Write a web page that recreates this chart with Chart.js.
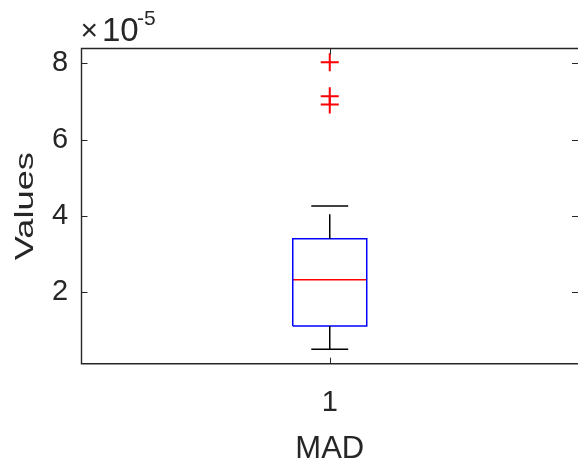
<!DOCTYPE html>
<html>
<head>
<meta charset="utf-8">
<script src="https://cdn.jsdelivr.net/npm/chart.js@4.4.1/dist/chart.umd.min.js"></script>
<style>
  html, body { margin: 0; padding: 0; background: #ffffff; }
  #wrap { width: 578px; height: 472px; }
</style>
</head>
<body>
<div id="wrap"><canvas id="c" width="578" height="472"></canvas></div>
<script>
// Box plot of the MAD values (one group), summary statistics in data units
const groupLabels   = ['1'];
const lowerWhisker  = [0.50e-5];
const firstQuartile = [1.11e-5];
const medianValue   = [2.32e-5];
const thirdQuartile = [3.40e-5];
const upperWhisker  = [4.26e-5];
const outlierValues = [[8.03e-5, 7.14e-5, 6.92e-5]];

// axis ticks, range and labels
const yTickValues = [2e-5, 4e-5, 6e-5, 8e-5];
const yRange = [0.12e-5, 8.39e-5];
const yExponent = -5;
const xAxisTitle = 'MAD';
const yAxisTitle = 'Values';

const INK = '#262626';
const FONT = "'Liberation Sans', Arial, Helvetica, sans-serif";
const BOX_HALF = 0.0745;   // half box width, x units
const CAP_HALF = 0.0372;   // half whisker-cap width, x units
const WHISKER_DASH = [24.5, 9];

const datasets = [];
groupLabels.forEach((g, i) => {
  const x = i + 1;
  const seg = (x0, x1, y0, y1) => [{ x: x0, y: y0 }, { x: x1, y: y1 }];
  const lineDs = (data, color, extra) => Object.assign({
    data, borderColor: color, borderWidth: 1.5, showLine: true,
    pointRadius: 0, pointHoverRadius: 0, fill: false, borderJoinStyle: 'miter'
  }, extra || {});

  // upper and lower whiskers (dashed, drawn from the box outward)
  datasets.push(lineDs(seg(x, x, thirdQuartile[i], upperWhisker[i]), '#000000', { borderDash: WHISKER_DASH }));
  datasets.push(lineDs(seg(x, x, firstQuartile[i], lowerWhisker[i]), '#000000', { borderDash: WHISKER_DASH }));
  // whisker caps
  datasets.push(lineDs(seg(x - CAP_HALF, x + CAP_HALF, upperWhisker[i], upperWhisker[i]), '#000000'));
  datasets.push(lineDs(seg(x - CAP_HALF, x + CAP_HALF, lowerWhisker[i], lowerWhisker[i]), '#000000'));
  // box
  datasets.push(lineDs([
    { x: x - BOX_HALF, y: firstQuartile[i] },
    { x: x + BOX_HALF, y: firstQuartile[i] },
    { x: x + BOX_HALF, y: thirdQuartile[i] },
    { x: x - BOX_HALF, y: thirdQuartile[i] },
    { x: x - BOX_HALF, y: firstQuartile[i] }
  ], '#0000ff'));
  // median
  datasets.push(lineDs(seg(x - BOX_HALF, x + BOX_HALF, medianValue[i], medianValue[i]), '#ff0000'));
  // outliers
  datasets.push({
    data: outlierValues[i].map(v => ({ x, y: v })),
    showLine: false,
    pointStyle: 'cross',
    pointRadius: 9,
    pointHoverRadius: 9,
    pointBorderColor: '#ff0000',
    pointBorderWidth: 2,
    borderColor: '#ff0000',
    backgroundColor: '#ff0000'
  });
});

// frame, inward tick marks, exponent label and rotated y title
const decorations = {
  id: 'decorations',
  afterDraw(chart) {
    const { ctx, chartArea: a, scales, width } = chart;
    const xs = scales.x, ys = scales.y;
    ctx.save();
    ctx.strokeStyle = INK;

    // tick marks pointing into the plot, mirrored on all sides
    ctx.lineWidth = 1;
    const TL = 6;
    ctx.beginPath();
    ys.ticks.forEach(t => {
      const py = Math.round(ys.getPixelForValue(t.value)) + 0.5;
      ctx.moveTo(a.left, py); ctx.lineTo(a.left + TL, py);
      ctx.moveTo(a.right, py); ctx.lineTo(a.right - TL, py);
    });
    xs.ticks.forEach(t => {
      const px = Math.round(xs.getPixelForValue(t.value)) + 0.5;
      ctx.moveTo(px, a.bottom); ctx.lineTo(px, a.bottom - TL);
      ctx.moveTo(px, a.top); ctx.lineTo(px, a.top + TL);
    });
    ctx.stroke();

    // axes box (its right side falls just past the canvas edge)
    ctx.lineWidth = 1.4;
    ctx.beginPath();
    ctx.moveTo(width, a.top);
    ctx.lineTo(a.left, a.top);
    ctx.lineTo(a.left, a.bottom);
    ctx.lineTo(width, a.bottom);
    ctx.stroke();

    // exponent multiplier above the y axis
    ctx.fillStyle = INK;
    ctx.textAlign = 'left';
    ctx.textBaseline = 'alphabetic';
    ctx.font = '30px ' + FONT;
    ctx.fillText('\u00d7', a.left - 1, 40);
    ctx.font = '33px ' + FONT;
    ctx.fillText('10', a.left + 20.5, 41);
    ctx.font = '21px ' + FONT;
    ctx.fillText('-' + Math.abs(yExponent), a.left + 55.5, 25);

    // y axis title, rotated
    ctx.font = '25px ' + FONT;
    ctx.textAlign = 'center';
    ctx.translate(33.4, (a.top + a.bottom) / 2);
    ctx.rotate(-Math.PI / 2);
    ctx.scale(1.45, 1);
    ctx.fillText(yAxisTitle, 0, 0);
    ctx.restore();
  }
};

new Chart(document.getElementById('c'), {
  type: 'scatter',
  data: { datasets },
  options: {
    responsive: false,
    animation: false,
    devicePixelRatio: 1,
    layout: { autoPadding: false, padding: { top: 48.5, right: -1.5, bottom: 0, left: 0 } },
    plugins: { legend: { display: false }, tooltip: { enabled: false } },
    events: [],
    scales: {
      x: {
        type: 'linear',
        min: 0.5,
        max: 1.5,
        grid: { display: false, drawTicks: false },
        border: { display: false },
        afterBuildTicks: s => { s.ticks = groupLabels.map((_, i) => ({ value: i + 1 })); },
        afterFit: s => { s.height = 108.3; s.paddingLeft = 0; s.paddingRight = 0; },
        ticks: {
          autoSkip: false,
          maxRotation: 0,
          padding: 22,
          color: INK,
          font: { family: FONT, size: 29 },
          callback: v => groupLabels[Math.round(v) - 1]
        },
        title: {
          display: true,
          text: xAxisTitle,
          color: INK,
          font: { family: FONT, size: 31 },
          padding: { top: 0, bottom: 4 }
        }
      },
      y: {
        type: 'linear',
        min: yRange[0],
        max: yRange[1],
        grid: { display: false, drawTicks: false },
        border: { display: false },
        afterBuildTicks: s => { s.ticks = yTickValues.map(v => ({ value: v })); },
        afterFit: s => { s.width = 81.5; s.paddingTop = 0; s.paddingBottom = 0; },
        ticks: {
          autoSkip: false,
          padding: 13.3,
          color: INK,
          font: { family: FONT, size: 29 },
          callback: v => String(Math.round(v / Math.pow(10, yExponent)))
        }
      }
    }
  },
  plugins: [decorations]
});
</script>
</body>
</html>
